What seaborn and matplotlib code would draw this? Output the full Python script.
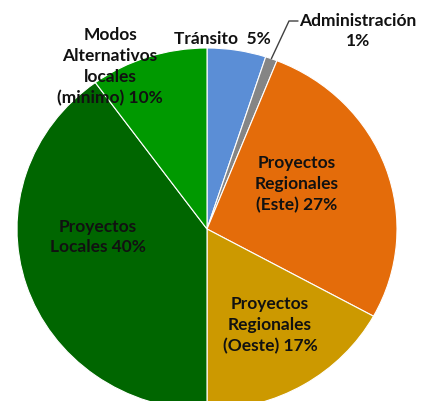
import numpy as np
import matplotlib.pyplot as plt
import seaborn as sns

sns.set_theme(style="white")
plt.rcParams['font.family'] = ['Lato', 'DejaVu Sans']

# Datos del gráfico
categorias = ['Tránsito', 'Administración', 'Proyectos\nRegionales\n(Este)',
              'Proyectos\nRegionales\n(Oeste)', 'Proyectos\nLocales',
              'Modos\nAlternativos\nlocales\n(minimo)']
porcentajes = [5, 1, 27, 17, 40, 10]
etiquetas = ['Tránsito  5%', 'Administración\n1%', 'Proyectos\nRegionales\n(Este) 27%',
             'Proyectos\nRegionales\n(Oeste) 17%', 'Proyectos\nLocales 40%',
             'Modos\nAlternativos\nlocales\n(minimo) 10%']
colores = sns.color_palette(['#5B8ED6', '#858585', '#E46C0A', '#CC9900', '#006600', '#009900'])

W, H = 430, 402
cx, cy, rx, ry = 207, 230, 190, 181

fig = plt.figure(figsize=(W / 100, H / 100), dpi=100)
ax = fig.add_axes([0, 0, 1, 1])

wedges, _ = ax.pie(porcentajes, colors=colores, startangle=90, counterclock=False,
                   wedgeprops=dict(edgecolor='white', linewidth=0.8))
ax.set_aspect('auto')
ax.set_xlim(-cx / rx, (W - cx) / rx)
ax.set_ylim(-(H - cy) / ry, cy / ry)
ax.axis('off')


def px(x, y):
    # coordenadas de la imagen -> datos
    return (x - cx) / rx, (cy - y) / ry


# Posiciones de las etiquetas (en píxeles)
pos_etiquetas = [(222, 39), (358, 31), (297, 184), (270, 325), (98, 237), (110, 67)]
for txt, (x, y) in zip(etiquetas, pos_etiquetas):
    ax.text(*px(x, y), txt, ha='center', va='center', fontsize=12.5, fontweight='bold',
            color='#111111', linespacing=1.38)

# Línea guía para Administración
ang = np.deg2rad(90 - 3.6 * (porcentajes[0] + porcentajes[1] / 2))
x0, y0 = np.cos(ang), np.sin(ang)
x1, y1 = px(289, 22)
x2, y2 = px(298, 22)
ax.plot([x0, x1, x2], [y0, y1, y2], color='#404040', lw=1)

plt.savefig('out.png', dpi=100)
